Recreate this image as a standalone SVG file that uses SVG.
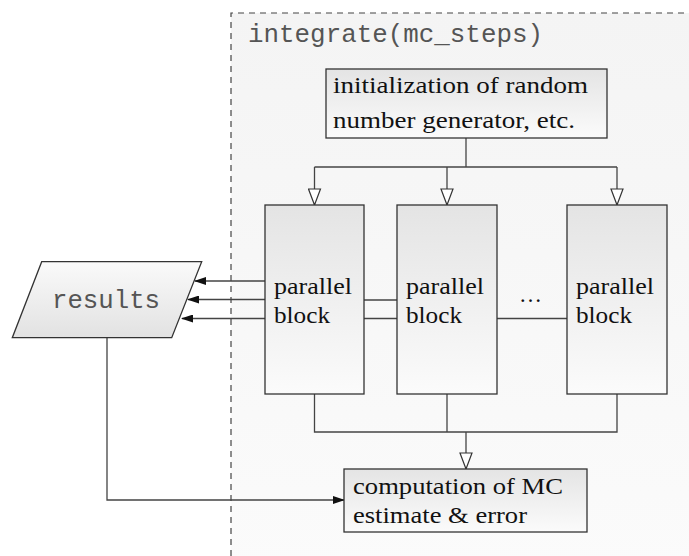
<svg xmlns="http://www.w3.org/2000/svg" width="689" height="556" viewBox="0 0 689 556">
<defs>
<linearGradient id="gDown" x1="0" y1="0" x2="0" y2="1"><stop offset="0" stop-color="#e4e4e4"/><stop offset="1" stop-color="#fbfbfb"/></linearGradient>
<linearGradient id="gUp" x1="0" y1="0" x2="0" y2="1"><stop offset="0" stop-color="#fafafa"/><stop offset="1" stop-color="#e2e2e2"/></linearGradient>
<linearGradient id="gBg" x1="0" y1="0" x2="0" y2="1"><stop offset="0" stop-color="#f4f4f4"/><stop offset="1" stop-color="#fbfbfb"/></linearGradient>
<marker id="open" viewBox="0 0 18 14" refX="17" refY="7" markerWidth="18" markerHeight="14" markerUnits="userSpaceOnUse" orient="auto">
<path d="M1,1 L17,7 L1,13 Z" fill="#fff" stroke="#333" stroke-width="1.2"/>
</marker>
<marker id="fill" viewBox="0 0 12 8" refX="11" refY="4" markerWidth="12" markerHeight="8" markerUnits="userSpaceOnUse" orient="auto">
<path d="M0,0 L12,4 L0,8 Z" fill="#111"/>
</marker>
</defs>
<style>
.box{stroke:#333;stroke-width:1.3}
.serif{font-family:"Liberation Serif","Times New Roman",serif;font-size:23px;fill:#111}
.mono{font-family:"Liberation Mono","Courier New",monospace;font-size:25.7px;fill:#555}
.ln{fill:none;stroke:#444;stroke-width:1.3}
</style>
<g id="region">
<rect x="231" y="13" width="470" height="560" fill="url(#gBg)"/>
<path d="M231,556 L231,13 L689,13" fill="none" stroke="#444" stroke-width="1.2" stroke-dasharray="6,5"/>
<text class="mono" x="248" y="42" textLength="295" lengthAdjust="spacingAndGlyphs">integrate(mc_steps)</text>
</g>
<g id="connectors">
<path class="ln" d="M466,138 L466,167"/>
<path class="ln" d="M314.5,167 L617,167"/>
<path class="ln" d="M314.5,167 L314.5,205" marker-end="url(#open)"/>
<path class="ln" d="M447,167 L447,205" marker-end="url(#open)"/>
<path class="ln" d="M617,167 L617,205" marker-end="url(#open)"/>
<path class="ln" d="M265,281 L195,281" marker-end="url(#fill)"/>
<path class="ln" d="M265,299.5 L188,299.5" marker-end="url(#fill)"/>
<path class="ln" d="M265,318.5 L182,318.5" marker-end="url(#fill)"/>
<path class="ln" d="M364,300 L397,300"/>
<path class="ln" d="M364,318.5 L397,318.5"/>
<path class="ln" d="M497,318.5 L567,318.5"/>
<path class="ln" d="M314.5,394 L314.5,432 L617,432 L617,394"/>
<path class="ln" d="M447,394 L447,432"/>
<path class="ln" d="M466,432 L466,469" marker-end="url(#open)"/>
<path class="ln" d="M107,338 L107,500 L344,500" marker-end="url(#fill)"/>
</g>
<g id="init">
<rect class="box" x="326" y="69" width="281" height="69" fill="url(#gDown)"/>
<text class="serif" x="333" y="93" textLength="255" lengthAdjust="spacingAndGlyphs">initialization of random</text>
<text class="serif" x="333" y="128" textLength="242" lengthAdjust="spacingAndGlyphs">number generator, etc.</text>
</g>
<g id="block1">
<rect class="box" x="265" y="205" width="99" height="189" fill="url(#gDown)"/>
<text class="serif" x="274" y="294" textLength="78" lengthAdjust="spacingAndGlyphs">parallel</text>
<text class="serif" x="274" y="323" textLength="56" lengthAdjust="spacingAndGlyphs">block</text>
</g>
<g id="block2">
<rect class="box" x="397" y="205" width="100" height="189" fill="url(#gDown)"/>
<text class="serif" x="406" y="294" textLength="78" lengthAdjust="spacingAndGlyphs">parallel</text>
<text class="serif" x="406" y="323" textLength="56" lengthAdjust="spacingAndGlyphs">block</text>
</g>
<g id="dots">
<text class="serif" x="519" y="302" textLength="27" lengthAdjust="spacing">…</text>
</g>
<g id="block3">
<rect class="box" x="567" y="205" width="100" height="189" fill="url(#gDown)"/>
<text class="serif" x="576" y="294" textLength="78" lengthAdjust="spacingAndGlyphs">parallel</text>
<text class="serif" x="576" y="323" textLength="56" lengthAdjust="spacingAndGlyphs">block</text>
</g>
<g id="results">
<path class="box" d="M41.7,261.7 L201.7,261.7 L171.7,337.7 L12.3,337.7 Z" fill="url(#gUp)"/>
<text class="mono" x="52" y="308" textLength="108" lengthAdjust="spacingAndGlyphs">results</text>
</g>
<g id="computation">
<rect class="box" x="344" y="469" width="243" height="63" fill="url(#gDown)"/>
<text class="serif" x="353" y="494" textLength="210" lengthAdjust="spacingAndGlyphs">computation of MC</text>
<text class="serif" x="353" y="523" textLength="174" lengthAdjust="spacingAndGlyphs">estimate &amp; error</text>
</g>
</svg>
